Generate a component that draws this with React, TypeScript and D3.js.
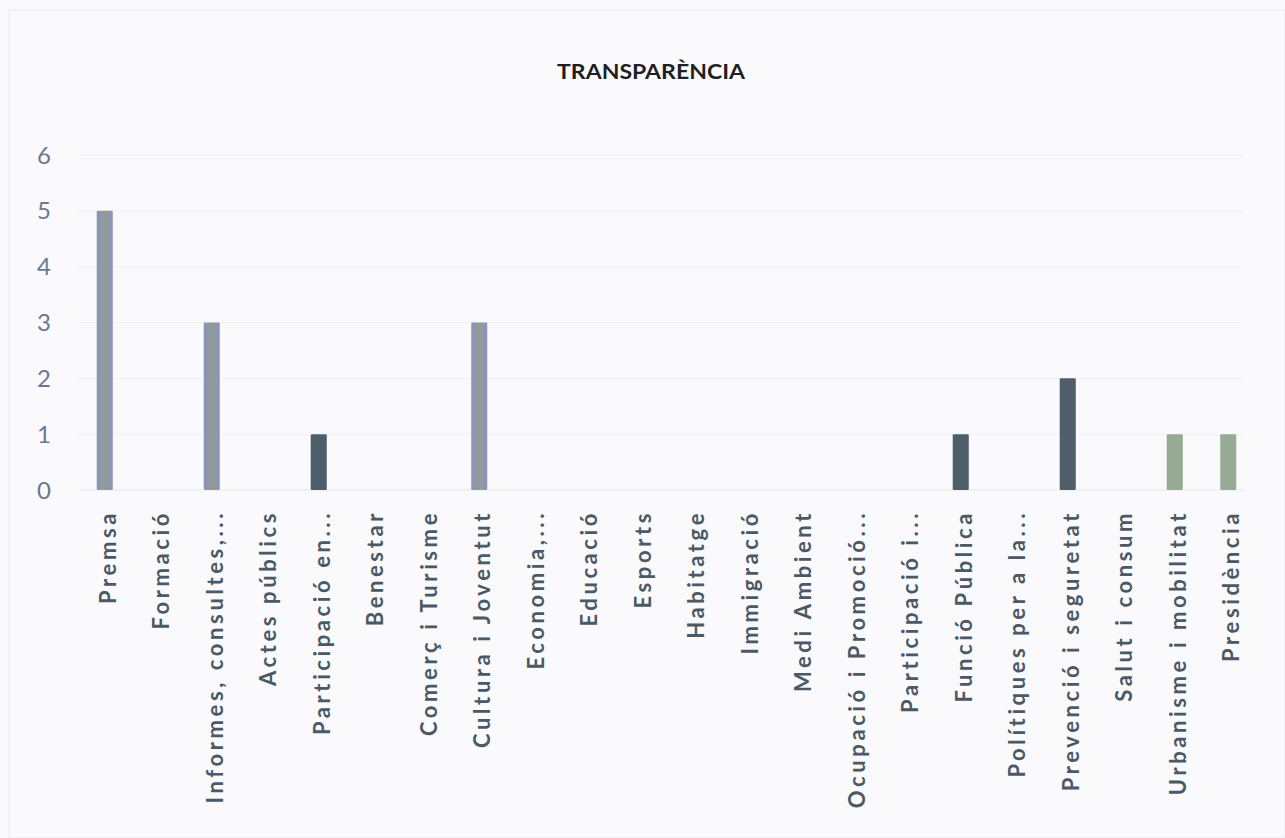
import * as React from "react";
import * as d3 from "d3";

const categories = [
  "Premsa", "Formació", "Informes, consultes,...", "Actes públics", "Participació en...",
  "Benestar", "Comerç i Turisme", "Cultura i Joventut", "Economia,...", "Educació",
  "Esports", "Habitatge", "Immigració", "Medi Ambient", "Ocupació i Promoció...",
  "Participació i...", "Funció Pública", "Polítiques per a la...", "Prevenció i seguretat",
  "Salut i consum", "Urbanisme i mobilitat", "Presidència",
];
const values = [5, 0, 3, 0, 1, 0, 0, 3, 0, 0, 0, 0, 0, 0, 0, 0, 1, 0, 2, 0, 1, 1];
// colour group of each bar, as in the original
const groups = ["a", "a", "a", "a", "b", "a", "a", "a", "a", "a", "a", "a", "a", "a", "a", "a", "b", "b", "b", "c", "c", "c"];
const yTicks = [0, 1, 2, 3, 4, 5, 6];
const title = "TRANSPARÈNCIA";

const W = 1285, H = 838;
const margin = { top: 155, right: 30, bottom: 348, left: 78 };

export default function App() {
  const innerW = W - margin.left - margin.right;
  const innerH = H - margin.top - margin.bottom;

  const x = d3.scaleBand<string>().domain(categories).range([0, innerW])
    .paddingInner(0.7).paddingOuter(0.35);
  const y = d3.scaleLinear().domain([0, 6]).range([innerH, 0]);

  const fill = (g: string) =>
    g === "a" ? "url(#mixGrad)" : g === "b" ? "#4e5f6b" : "#97aa93";

  return (
    <svg width={W} height={H} style={{ position: "absolute", left: 0, top: 0, background: "#fafafc" }}>
      <defs>
        <linearGradient id="mixGrad" x1="0" x2="1" y1="0" y2="0">
          <stop offset="0" stopColor="#8d93b6" />
          <stop offset="0.3" stopColor="#8f97ad" />
          <stop offset="0.5" stopColor="#919e88" />
          <stop offset="0.7" stopColor="#8f97ad" />
          <stop offset="1" stopColor="#8d93b6" />
        </linearGradient>
      </defs>
      <rect x={9} y={10} width={W - 9} height={H - 10} fill="#fafafc" stroke="#e8e9ef" />
      <text x={651} y={79} textAnchor="middle" fontFamily="Lato" fontWeight="bold" fontSize={20}
        textLength={188} lengthAdjust="spacingAndGlyphs" fill="#1f1f22">{title}</text>
      <g transform={`translate(${margin.left},${margin.top})`}>
        {yTicks.map((t) => (
          <g key={t}>
            <line x1={0} x2={innerW - 10} y1={y(t)} y2={y(t)} stroke={t === 0 ? "#e6e7ec" : "#f0f1f4"} />
            <text x={-27} y={y(t)} dy="0.36em" textAnchor="end" fontFamily="Lato" fontSize={24} fill="#6a7795">{t}</text>
          </g>
        ))}
        {categories.map((c, i) => (
          values[i] > 0 ? (
            <rect key={c} x={x(c)} y={y(values[i])} width={x.bandwidth()} height={innerH - y(values[i])}
              fill={fill(groups[i])} rx={1} />
          ) : null
        ))}
        {categories.map((c) => (
          <text key={c} transform={`translate(${(x(c) as number) + x.bandwidth() / 2 + 11},${innerH + 20}) rotate(-90)`}
            textAnchor="end" fontFamily="Lato" fontWeight="bold" fontSize={22} letterSpacing={3.6} fill="#4b5966">{c}</text>
        ))}
      </g>
    </svg>
  );
}
